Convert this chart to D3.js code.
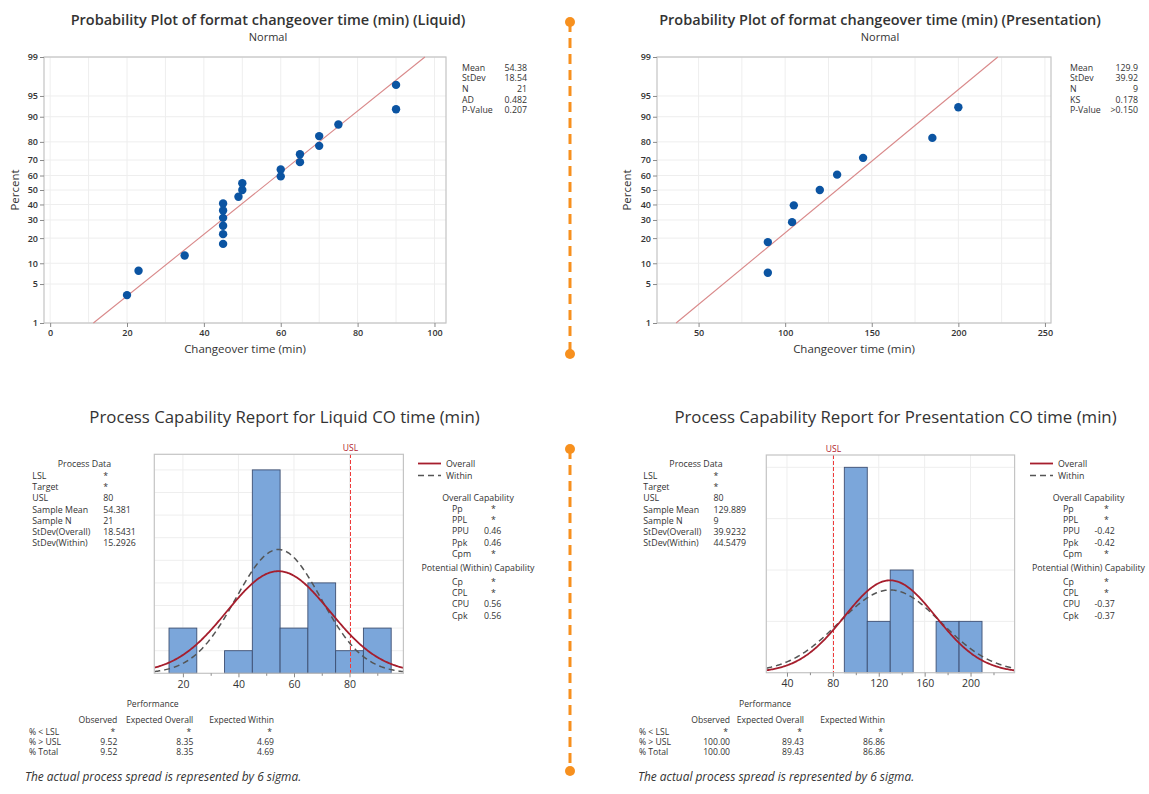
<!DOCTYPE html>
<html>
<head>
<meta charset="utf-8">
<script src="https://cdn.jsdelivr.net/npm/d3@7"></script>
<style>
  body { margin: 0; background: #fff; }
  svg text { font-family: "Open Sans", "Noto Sans", sans-serif; fill: #333; }
</style>
</head>
<body>
<svg id="chart" width="1149" height="794"></svg>
<script>
// ---- data ----
const liquidTimes = [20, 23, 35, 45, 45, 45, 45, 45, 45, 49, 50, 50, 60, 60, 65, 65, 70, 70, 75, 90, 90];
const liquidPct = [3.3, 7.9, 12.6, 17.3, 22.0, 26.6, 31.3, 36.0, 40.7, 45.3, 50.0, 54.7, 59.4, 64.0, 68.7, 73.4, 78.0, 82.7, 87.4, 92.1, 96.7];
const presTimes = [90, 90, 104, 105, 120, 130, 145, 185, 200];
const presPct = [7.4, 18.1, 28.7, 39.4, 50.0, 60.6, 71.3, 81.9, 92.6];

const probTicks = [1, 5, 10, 20, 30, 40, 50, 60, 70, 80, 90, 95, 99];
const liquidProbXTicks = [0, 20, 40, 60, 80, 100];
const presProbXTicks = [50, 100, 150, 200, 250];

const liquidStats = [["Mean", "54.38"], ["StDev", "18.54"], ["N", "21"], ["AD", "0.482"], ["P-Value", "0.207"]];
const presStats = [["Mean", "129.9"], ["StDev", "39.92"], ["N", "9"], ["KS", "0.178"], ["P-Value", ">0.150"]];

const usl = 80;
const liquidMean = 54.381, liquidSdOverall = 18.5431, liquidSdWithin = 15.2926;
const presMean = 129.889, presSdOverall = 39.9232, presSdWithin = 44.5479;

const liquidBinEdges = [15, 25, 35, 45, 55, 65, 75, 85, 95];
const presBinEdges = [90, 110, 130, 150, 170, 190, 210];
const liquidHistTicks = [20, 40, 60, 80];
const liquidHistMinor = [30, 50, 70, 90];
const presHistTicks = [40, 80, 120, 160, 200];
const presHistMinor = [60, 100, 140, 180, 220];

const liquidProcessData = [["LSL", "*"], ["Target", "*"], ["USL", "80"], ["Sample Mean", "54.381"], ["Sample N", "21"], ["StDev(Overall)", "18.5431"], ["StDev(Within)", "15.2926"]];
const presProcessData = [["LSL", "*"], ["Target", "*"], ["USL", "80"], ["Sample Mean", "129.889"], ["Sample N", "9"], ["StDev(Overall)", "39.9232"], ["StDev(Within)", "44.5479"]];
const liquidOverallCap = [["Pp", "*"], ["PPL", "*"], ["PPU", "0.46"], ["Ppk", "0.46"], ["Cpm", "*"]];
const liquidWithinCap = [["Cp", "*"], ["CPL", "*"], ["CPU", "0.56"], ["Cpk", "0.56"]];
const presOverallCap = [["Pp", "*"], ["PPL", "*"], ["PPU", "-0.42"], ["Ppk", "-0.42"], ["Cpm", "*"]];
const presWithinCap = [["Cp", "*"], ["CPL", "*"], ["CPU", "-0.37"], ["Cpk", "-0.37"]];

const perfCols = ["Observed", "Expected Overall", "Expected Within"];
const perfRows = ["% < LSL", "% > USL", "% Total"];
const liquidPerf = [["*", "*", "*"], ["9.52", "8.35", "4.69"], ["9.52", "8.35", "4.69"]];
const presPerf = [["*", "*", "*"], ["100.00", "89.43", "86.86"], ["100.00", "89.43", "86.86"]];

// ---- helpers ----
// inverse normal cdf (Acklam) for the probability axis
function probit(p) {
    const a = [-3.969683028665376e+01, 2.209460984245205e+02, -2.759285104469687e+02, 1.383577518672690e+02, -3.066479806614716e+01, 2.506628277459239e+00];
    const b = [-5.447609879822406e+01, 1.615858368580409e+02, -1.556989798598866e+02, 6.680131188771972e+01, -1.328068155288572e+01];
    const c = [-7.784894002430293e-03, -3.223964580411365e-01, -2.400758277161838e+00, -2.549732539343734e+00, 4.374664141464968e+00, 2.938163982698783e+00];
    const d = [7.784695709041462e-03, 3.224671290700398e-01, 2.445134137142996e+00, 3.754408661907416e+00];
    const pl = 0.02425;
    let q, r;
    if (p < pl) {
        q = Math.sqrt(-2 * Math.log(p));
        return (((((c[0]*q+c[1])*q+c[2])*q+c[3])*q+c[4])*q+c[5]) / ((((d[0]*q+d[1])*q+d[2])*q+d[3])*q+1);
    }
    if (p <= 1 - pl) {
        q = p - 0.5; r = q * q;
        return (((((a[0]*r+a[1])*r+a[2])*r+a[3])*r+a[4])*r+a[5])*q / (((((b[0]*r+b[1])*r+b[2])*r+b[3])*r+b[4])*r+1);
    }
    q = Math.sqrt(-2 * Math.log(1 - p));
    return -(((((c[0]*q+c[1])*q+c[2])*q+c[3])*q+c[4])*q+c[5]) / ((((d[0]*q+d[1])*q+d[2])*q+d[3])*q+1);
}
const normPdf = (v, m, s) => Math.exp(-0.5 * ((v - m) / s) ** 2) / (s * Math.sqrt(2 * Math.PI));

const svg = d3.select("#chart");

function styleAxis(sel, size, weight) {
    sel.select(".domain").remove();
    sel.selectAll(".tick line").attr("stroke", "#8a8a8a");
    sel.selectAll(".tick text").attr("fill", "#333").style("font-size", size + "px")
        .style("font-weight", weight).style("font-family", '"Open Sans", sans-serif');
}

function textRows(g, data, xLab, xVal, xStar, y0, dy, size) {
    data.forEach((r, i) => {
        g.append("text").attr("x", xLab).attr("y", y0 + i * dy).attr("font-size", size).text(r[0]);
        g.append("text").attr("x", r[1] === "*" ? xStar : xVal).attr("y", y0 + i * dy)
            .attr("font-size", size).text(r[1]);
    });
}

// ---- probability plot ----
function probPlot(o) {
    const g = svg.append("g");
    const x = d3.scaleLinear().domain(o.xDomain).range([o.left, o.right]);
    const zMax = probit(0.99);
    const y = d3.scaleLinear().domain([-zMax, zMax]).range([o.bottom, o.top]);

    g.append("g").selectAll("line").data(d3.range(o.gridStart, o.xDomain[1], o.gridStep)).join("line")
        .attr("x1", d => x(d)).attr("x2", d => x(d)).attr("y1", o.top).attr("y2", o.bottom)
        .attr("stroke", "#eeeeee");
    g.append("g").selectAll("line").data(probTicks).join("line")
        .attr("x1", o.left).attr("x2", o.right)
        .attr("y1", d => y(probit(d / 100))).attr("y2", d => y(probit(d / 100)))
        .attr("stroke", "#eeeeee");

    g.append("rect").attr("x", o.left).attr("y", o.top)
        .attr("width", o.right - o.left).attr("height", o.bottom - o.top)
        .attr("fill", "none").attr("stroke", "#c4c4c4").attr("stroke-width", 1.2);

    g.append("g").attr("transform", `translate(${o.left},0)`)
        .call(d3.axisLeft(y).tickValues(probTicks.map(p => probit(p / 100)))
            .tickFormat((d, i) => probTicks[i]).tickSize(4).tickSizeOuter(0).tickPadding(2))
        .call(s => styleAxis(s, 9, 600));
    g.append("g").attr("transform", `translate(0,${o.bottom})`)
        .call(d3.axisBottom(x).tickValues(o.xTicks).tickSize(4).tickSizeOuter(0).tickPadding(3))
        .call(s => styleAxis(s, 9, 600));

    // fitted line, 1% to 99%
    g.append("line")
        .attr("x1", x(o.mean - zMax * o.sd)).attr("y1", y(-zMax))
        .attr("x2", x(o.mean + zMax * o.sd)).attr("y2", y(zMax))
        .attr("stroke", "#d9898a").attr("stroke-width", 1.1);

    g.append("g").selectAll("circle").data(o.times).join("circle")
        .attr("cx", d => x(d)).attr("cy", (d, i) => y(probit(o.pct[i] / 100)))
        .attr("r", 4.2).attr("fill", "#0b54a2");

    g.append("text").attr("x", o.titleX).attr("y", 25).attr("text-anchor", "middle")
        .attr("font-size", 14.5).attr("font-weight", 600).attr("fill", "#3a3a3a").text(o.title);
    g.append("text").attr("x", o.titleX).attr("y", 41).attr("text-anchor", "middle")
        .attr("font-size", 11).attr("fill", "#808080").text("Normal");
    g.append("text").attr("x", (o.left + o.right) / 2).attr("y", 353).attr("text-anchor", "middle")
        .attr("font-size", 11.5).attr("fill", "#3a3a3a").text("Changeover time (min)");
    g.append("text").attr("transform", `translate(${o.yLabelX},190) rotate(-90)`)
        .attr("text-anchor", "middle").attr("font-size", 11.5).attr("fill", "#3a3a3a").text("Percent");

    o.stats.forEach((s, i) => {
        g.append("text").attr("x", o.statsX).attr("y", 70.5 + i * 10.7).attr("font-size", 8.8).text(s[0]);
        g.append("text").attr("x", o.statsValX).attr("y", 70.5 + i * 10.7).attr("font-size", 8.8)
            .attr("text-anchor", "end").text(s[1]);
    });
}

// ---- capability report ----
function capReport(o) {
    const g = svg.append("g");
    const x = d3.scaleLinear().domain(o.xDomain).range([o.left, o.right]);
    const y = d3.scaleLinear().domain([0, o.yMax]).range([o.bottom, o.top]);
    const binW = o.edges[1] - o.edges[0];
    const n = o.times.length;

    const clipId = "clip" + o.id;
    svg.append("clipPath").attr("id", clipId).append("rect")
        .attr("x", o.left).attr("y", o.top).attr("width", o.right - o.left).attr("height", o.bottom - o.top);

    g.append("g").selectAll("line").data(d3.range(1, Math.floor(o.yMax) + 1)).join("line")
        .attr("x1", o.left).attr("x2", o.right).attr("y1", d => y(d)).attr("y2", d => y(d))
        .attr("stroke", "#eeeeee");
    g.append("g").selectAll("line").data(o.xTicks).join("line")
        .attr("x1", d => x(d)).attr("x2", d => x(d)).attr("y1", o.top).attr("y2", o.bottom)
        .attr("stroke", "#eeeeee");

    const bins = d3.bin().domain([o.edges[0], o.edges[o.edges.length - 1]]).thresholds(o.edges)(o.times)
        .filter(b => b.length > 0);
    g.append("g").selectAll("rect").data(bins).join("rect")
        .attr("x", d => x(d.x0)).attr("y", d => y(d.length))
        .attr("width", d => x(d.x1) - x(d.x0)).attr("height", d => y(0) - y(d.length))
        .attr("fill", "#7ba6da").attr("stroke", "#3d4f72").attr("stroke-width", 0.9);

    const xs = d3.range(o.xDomain[0], o.xDomain[1] + 0.01, (o.xDomain[1] - o.xDomain[0]) / 240);
    const curve = sd => d3.line().x(v => x(v)).y(v => y(n * binW * normPdf(v, o.mean, sd)))(xs);
    const cg = g.append("g").attr("clip-path", `url(#${clipId})`);

    // USL reference line
    const ux = Math.round(x(usl)) + 0.5;
    cg.append("line").attr("x1", ux).attr("x2", ux).attr("y1", o.top).attr("y2", o.bottom)
        .attr("stroke", "#ee3b3b").attr("stroke-width", 1).attr("stroke-dasharray", "4,2")
        .attr("shape-rendering", "crispEdges");
    cg.append("path").attr("d", curve(o.sdWithin)).attr("fill", "none")
        .attr("stroke", "#555").attr("stroke-width", 1.5).attr("stroke-dasharray", "6,4");
    cg.append("path").attr("d", curve(o.sdOverall)).attr("fill", "none")
        .attr("stroke", "#a61e2d").attr("stroke-width", 1.8);

    g.append("text").attr("x", ux).attr("y", o.top - 3).attr("text-anchor", "middle")
        .attr("font-size", 8.5).style("fill", "#b0202e").text("USL");

    g.append("rect").attr("x", o.left).attr("y", o.top)
        .attr("width", o.right - o.left).attr("height", o.bottom - o.top)
        .attr("fill", "none").attr("stroke", "#c4c4c4").attr("stroke-width", 1.2);

    g.append("g").attr("transform", `translate(0,${o.bottom})`)
        .call(d3.axisBottom(x).tickValues(o.xTicks).tickSize(4).tickSizeOuter(0).tickPadding(3))
        .call(s => styleAxis(s, 10.5, 400));
    g.append("g").attr("transform", `translate(0,${o.bottom})`)
        .call(d3.axisBottom(x).tickValues(o.minor).tickSize(2.5).tickFormat(""))
        .call(s => s.select(".domain").remove())
        .call(s => s.selectAll(".tick line").attr("stroke", "#8a8a8a"));

    g.append("text").attr("x", o.titleX).attr("y", 423).attr("text-anchor", "middle")
        .attr("font-size", 16.8).attr("fill", "#3a3a3a").text(o.title);

    // process data
    g.append("text").attr("x", o.pdCenter).attr("y", 467).attr("text-anchor", "middle")
        .attr("font-size", 8.8).text("Process Data");
    textRows(g, o.processData, o.pdLabX, o.pdValX, o.pdValX, 479, 11.2, 8.8);

    // legend
    g.append("line").attr("x1", o.legX).attr("x2", o.legX + 23).attr("y1", 463.5).attr("y2", 463.5)
        .attr("stroke", "#a61e2d").attr("stroke-width", 1.8);
    g.append("line").attr("x1", o.legX).attr("x2", o.legX + 23).attr("y1", 475.5).attr("y2", 475.5)
        .attr("stroke", "#555").attr("stroke-width", 1.5).attr("stroke-dasharray", "6,4");
    g.append("text").attr("x", o.legX + 28).attr("y", 466.5).attr("font-size", 8.8).text("Overall");
    g.append("text").attr("x", o.legX + 28).attr("y", 478.5).attr("font-size", 8.8).text("Within");

    g.append("text").attr("x", o.capCenter).attr("y", 501).attr("text-anchor", "middle")
        .attr("font-size", 8.8).text("Overall Capability");
    textRows(g, o.overallCap, o.capLabX, o.capValX, o.capStarX, 512, 11.2, 8.8);
    g.append("text").attr("x", o.capCenter).attr("y", 571).attr("text-anchor", "middle")
        .attr("font-size", 8.8).text("Potential (Within) Capability");
    textRows(g, o.withinCap, o.capLabX, o.capValX, o.capStarX, 585, 11.2, 8.8);

    // performance table
    g.append("text").attr("x", o.perfCenter).attr("y", 706.5).attr("text-anchor", "middle")
        .attr("font-size", 8.6).text("Performance");
    perfCols.forEach((c, j) => {
        g.append("text").attr("x", o.perfColX[j]).attr("y", 723).attr("text-anchor", "end")
            .attr("font-size", 8.6).text(c);
    });
    perfRows.forEach((r, i) => {
        const yy = 734.5 + i * 10.3;
        g.append("text").attr("x", o.perfLabX).attr("y", yy).attr("font-size", 8.6).text(r);
        o.perf[i].forEach((v, j) => {
            g.append("text").attr("x", o.perfColX[j] - (v === "*" ? 2 : 0)).attr("y", yy)
                .attr("text-anchor", "end").attr("font-size", 8.6).text(v);
        });
    });

    g.append("text").attr("x", o.footX).attr("y", 781).attr("font-size", 11.9)
        .attr("font-style", "italic").attr("fill", "#444").text("The actual process spread is represented by 6 sigma.");
}

// ---- orange dividers ----
function divider(x, y0, y1) {
    svg.append("line").attr("x1", x).attr("x2", x).attr("y1", y0).attr("y2", y1)
        .attr("stroke", "#f7901e").attr("stroke-width", 3).attr("stroke-dasharray", "10,6");
    svg.selectAll(null).data([y0, y1]).join("circle")
        .attr("cx", x).attr("cy", d => d).attr("r", 5).attr("fill", "#f7901e");
}

probPlot({
    left: 44, right: 446, top: 57, bottom: 323,
    xDomain: [-1.6, 103], xTicks: liquidProbXTicks, gridStart: 0, gridStep: 10,
    times: liquidTimes, pct: liquidPct, mean: 54.38, sd: 18.54,
    title: "Probability Plot of format changeover time (min) (Liquid)", titleX: 268, yLabelX: 19,
    stats: liquidStats, statsX: 462, statsValX: 527
});
probPlot({
    left: 657, right: 1051, top: 57, bottom: 323,
    xDomain: [26, 253.5], xTicks: presProbXTicks, gridStart: 50, gridStep: 25,
    times: presTimes, pct: presPct, mean: 129.9, sd: 39.92,
    title: "Probability Plot of format changeover time (min) (Presentation)", titleX: 880, yLabelX: 631,
    stats: presStats, statsX: 1070, statsValX: 1138
});

capReport({
    id: "L", left: 154.3, right: 403.4, top: 454.3, bottom: 673.3,
    xDomain: [9.7, 99.4], yMax: 9.69, edges: liquidBinEdges, times: liquidTimes,
    mean: liquidMean, sdOverall: liquidSdOverall, sdWithin: liquidSdWithin,
    xTicks: liquidHistTicks, minor: liquidHistMinor,
    title: "Process Capability Report for Liquid CO time (min)", titleX: 284.5,
    processData: liquidProcessData, pdCenter: 84.4, pdLabX: 32.3, pdValX: 103.3,
    legX: 418, capCenter: 478, capLabX: 452, capValX: 484, capStarX: 491,
    overallCap: liquidOverallCap, withinCap: liquidWithinCap,
    perf: liquidPerf, perfCenter: 152.7, perfColX: [117.3, 193.3, 274], perfLabX: 29, footX: 25
});
capReport({
    id: "P", left: 766.3, right: 1014.6, top: 455, bottom: 672.7,
    xDomain: [22, 238.4], yMax: 4.24, edges: presBinEdges, times: presTimes,
    mean: presMean, sdOverall: presSdOverall, sdWithin: presSdWithin,
    xTicks: presHistTicks, minor: presHistMinor,
    title: "Process Capability Report for Presentation CO time (min)", titleX: 895.5,
    processData: presProcessData, pdCenter: 696, pdLabX: 643.3, pdValX: 713.5,
    legX: 1030, capCenter: 1088.5, capLabX: 1063, capValX: 1094.5, capStarX: 1104,
    overallCap: presOverallCap, withinCap: presWithinCap,
    perf: presPerf, perfCenter: 765, perfColX: [730, 804, 885], perfLabX: 639, footX: 638
});

divider(570, 22, 354);
divider(570, 449, 771);
</script>
</body>
</html>
